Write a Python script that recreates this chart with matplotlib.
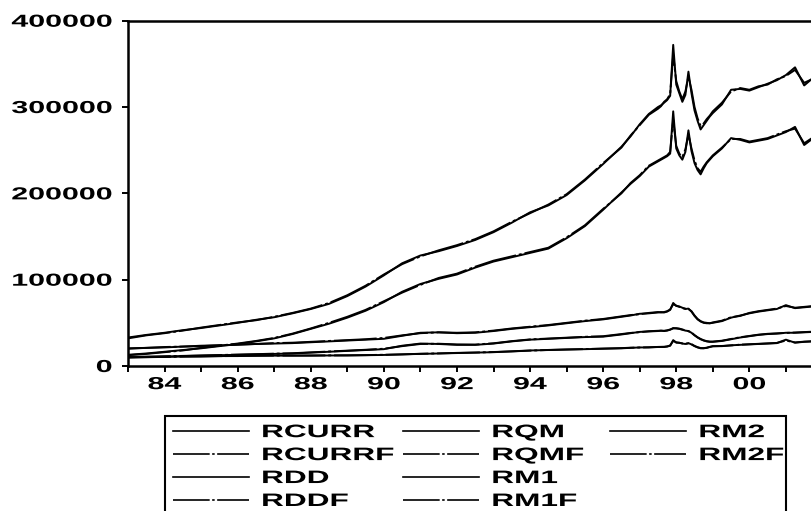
import numpy as np
import matplotlib
matplotlib.use("Agg")
import matplotlib.pyplot as plt
from matplotlib import patheffects
from matplotlib.transforms import Affine2D
from matplotlib.lines import Line2D
from matplotlib.patches import Rectangle

# observation dates (decimal years): half-yearly to 1996, quarterly, monthly round the 97/98 crisis, quarterly after
dates = np.concatenate([
    np.arange(1983.0, 1996.51, 0.5),
    np.arange(1996.75, 1997.51, 0.25),
    1997.5 + np.arange(1, 19) / 12,
    np.arange(1999.25, 2002.01, 0.25),
])

rm2 = [33000, 36000, 38500, 41500, 44000, 47000, 50000, 53500, 56500, 61000,
       66000, 72000, 81000, 92000, 105000, 119000, 128000, 133000, 139000, 146000,
       155000, 166000, 178000, 186000, 198000, 215000, 234000, 254000,
       266000, 280000, 292000, 300000,
       302000, 305000, 308000, 313000, 372000, 326000, 316000, 306000, 314000, 341000,
       316000, 296000, 284000, 274000, 279000, 284000, 289000, 293000,
       303000, 320000, 321000, 319000, 323000, 327000, 331000, 337000, 346000, 325000, 334000, 338000]
rm2f = [32000, 35500, 38000, 41000, 44500, 47500, 50500, 53000, 57000, 61500,
        66500, 73000, 82000, 93000, 106000, 118000, 127000, 134000, 140000, 147000,
        156000, 167000, 177000, 187000, 199000, 216000, 235000, 253000,
        267000, 279000, 291000, 298000,
        301000, 306000, 309000, 315000, 360000, 330000, 318000, 309000, 318000, 335000,
        320000, 300000, 287000, 278000, 281000, 286000, 290000, 295000,
        305000, 318000, 322000, 320000, 324000, 326000, 332000, 336000, 343000, 328000, 333000, 339000]

rqm = [13000, 14500, 16500, 18500, 20500, 23000, 25500, 28500, 32000, 37000,
       43000, 49000, 56000, 64000, 74000, 86000, 95000, 101000, 106000, 114000,
       121000, 126000, 131000, 136000, 148000, 162000, 181000, 201000,
       211000, 220000, 231000, 237000,
       239000, 241000, 243000, 246000, 295000, 252000, 244000, 239000, 248000, 273000,
       249000, 235000, 227000, 222000, 229000, 235000, 239000, 243000,
       252000, 264000, 262000, 259000, 261000, 263000, 267000, 271000, 277000, 256000, 264000, 267000]
rqmf = [12500, 14000, 16000, 18000, 21000, 23500, 26000, 29000, 32500, 37500,
        43500, 50000, 57000, 65000, 75000, 85000, 94000, 102000, 107000, 115000,
        122000, 127000, 132000, 137000, 149000, 163000, 182000, 200000,
        212000, 221000, 232000, 238000,
        240000, 242000, 244000, 248000, 285000, 255000, 246000, 242000, 251000, 268000,
        252000, 238000, 229000, 225000, 231000, 236000, 240000, 244000,
        253000, 263000, 263000, 260000, 262000, 264000, 268000, 272000, 275000, 258000, 265000, 268000]

rm1 = [20500, 21000, 21500, 22500, 23000, 24000, 24500, 25500, 26000, 26500,
       27500, 28500, 29500, 30500, 31500, 35000, 38500, 39000, 38000, 38500,
       40500, 43000, 45000, 47000, 49500, 52000, 54000, 57000,
       58500, 60500, 61000, 62000,
       62500, 62000, 63000, 65000, 73000, 69500, 69000, 67500, 66000, 66500,
       63000, 58000, 54000, 51500, 50000, 49500, 49500, 50000,
       52000, 56000, 58500, 61000, 63000, 64500, 66000, 70500, 67000, 68000, 69000, 70000]
rm1f = [20000, 21000, 22000, 22500, 23500, 24000, 25000, 25500, 26500, 27000,
        28000, 29000, 30000, 31000, 32500, 35500, 38000, 39000, 38500, 39000,
        41000, 43500, 45500, 47500, 50000, 52500, 54500, 57500,
        59000, 60000, 61500, 62500,
        62000, 62500, 63500, 65500, 71500, 70000, 68500, 67000, 66500, 66000,
        63500, 58500, 54500, 52000, 50500, 50000, 49500, 50500,
        52500, 56500, 58000, 61500, 63500, 65000, 66500, 69500, 67500, 68500, 69500, 70500]

rdd = [10500, 10800, 11000, 11500, 12000, 12500, 13000, 13500, 14000, 14500,
       15500, 16500, 17500, 18500, 19500, 23500, 26000, 25500, 24500, 24500,
       26000, 28500, 30500, 31500, 32500, 33500, 34000, 36500,
       38000, 39500, 40000, 40500,
       41000, 40500, 41000, 42000, 44000, 43500, 43000, 42000, 41000, 40500,
       38500, 35500, 33000, 31000, 29500, 28500, 28000, 28000,
       29000, 31000, 33000, 34500, 36000, 37000, 37500, 38500, 38500, 39000, 39500, 40000]
rddf = [10200, 10600, 11200, 11700, 12200, 12700, 13200, 13700, 14300, 14800,
        15800, 16800, 17800, 18800, 20000, 23000, 25500, 25800, 25000, 24800,
        26300, 28800, 30800, 31800, 32800, 33800, 34500, 37000,
        38300, 39200, 40300, 40800,
        40800, 40800, 41300, 42300, 43500, 43800, 43300, 42300, 41300, 40300,
        38800, 35800, 33300, 31300, 29800, 28800, 28300, 28300,
        29300, 31300, 33300, 34800, 36300, 37300, 37800, 38300, 38800, 39300, 39800, 40300]

rcurr = [10000, 10200, 10500, 11000, 11000, 11500, 11500, 12000, 12000, 12000,
         12000, 12200, 12200, 12500, 12800, 13500, 14000, 14500, 15000, 15500,
         16000, 17000, 18000, 18500, 19000, 19500, 20000, 20500,
         21000, 21500, 21500, 22000,
         22000, 22000, 22500, 23500, 30000, 27000, 27000, 26000, 25500, 26500,
         25000, 23000, 21500, 20500, 20500, 21000, 22000, 23000,
         23000, 24000, 24500, 25000, 25500, 26000, 26500, 30500, 27000, 28000, 28500, 29000]
rcurrf = [9800, 10300, 10600, 10800, 11200, 11400, 11700, 11800, 12100, 12100,
          12200, 12300, 12400, 12600, 13000, 13400, 14200, 14600, 15200, 15600,
          16200, 16900, 17800, 18600, 19200, 19600, 20200, 20700,
          21200, 21400, 21700, 22100,
          22200, 22300, 22700, 23800, 29000, 27500, 26800, 26200, 25800, 26200,
          25300, 23300, 21800, 20800, 20700, 21200, 22200, 22800,
          23200, 23800, 24700, 25200, 25700, 26200, 26700, 29500, 27300, 28200, 28700, 29200]

yticks = [0, 100000, 200000, 300000, 400000]
major_years = list(range(1984, 2001, 2))
minor_years = list(range(1983, 2003, 1))

FONT = "Liberation Sans"
STRETCH = 1.75   # the scanned original is squeezed tall-and-wide; text runs about 1.75x wide


class Stretch(patheffects.AbstractPathEffect):
    """Draw text glyphs scaled horizontally around one edge."""

    def __init__(self, sx, anchor="left"):
        super().__init__()
        self.sx = sx
        self.anchor = anchor

    def draw_path(self, renderer, gc, tpath, affine, rgbFace=None):
        ext = tpath.get_extents()
        x0 = {"left": ext.x0, "center": (ext.x0 + ext.x1) / 2, "right": ext.x1}[self.anchor]
        st = Affine2D().translate(-x0, 0).scale(self.sx, 1).translate(x0, 0)
        renderer.draw_path(gc, tpath, st + affine, rgbFace)


fig = plt.figure(figsize=(8.12, 5.11), dpi=100)
W, H = 812, 511
# axes in pixel terms: left spine x=128, zero line y=366, 400000 at y=20.7, right spine off the page
x0, x1 = 1983.0, 2002.5
ax = fig.add_axes([128 / W, (H - 366) / H, (x1 - x0) * 36.55 / W, (366 - 20.7) / H])

solid = "-"
fitted = (0, (22, 1.5, 1.5, 1.5))
series = [
    ("RCURR", rcurr, solid), ("RCURRF", rcurrf, fitted),
    ("RDD", rdd, solid), ("RDDF", rddf, fitted),
    ("RQM", rqm, solid), ("RQMF", rqmf, fitted),
    ("RM1", rm1, solid), ("RM1F", rm1f, fitted),
    ("RM2", rm2, solid), ("RM2F", rm2f, fitted),
]
handles = {}
for name, vals, ls in series:
    ln, = ax.plot(dates, vals, color="black", lw=1.4, ls=ls, label=name)
    handles[name] = ln

ax.set_xlim(x0, x1)
ax.set_ylim(0, 400000)
ax.set_yticks(yticks, labels=[str(v) for v in yticks])
ax.set_xticks(major_years, labels=[f"{y % 100:02d}" for y in major_years])
ax.set_xticks(minor_years, minor=True)
ax.tick_params(which="both", direction="out", length=4.5, width=1.4, color="black")
ax.tick_params(axis="y", pad=7)
ax.tick_params(axis="x", pad=3.5)
for lbl in ax.get_xticklabels() + ax.get_yticklabels():
    lbl.set_fontfamily(FONT)
    lbl.set_fontweight("bold")
    lbl.set_fontsize(12.5)
for sp in ax.spines.values():
    sp.set_linewidth(1.8)

blank = Line2D([], [], color="none")
order = ["RCURR", "RCURRF", "RDD", "RDDF", "RQM", "RQMF", "RM1", "RM1F", "RM2", "RM2F"]
leg_handles = [handles[n] for n in order] + [blank, blank]
leg_labels = order + ["", ""]
leg = fig.legend(leg_handles, leg_labels, ncol=3, loc="upper left",
                 bbox_to_anchor=(165 / W, 1 - 416 / H), borderaxespad=0,
                 prop={"family": FONT, "weight": "bold", "size": 13},
                 handlelength=4.2, handletextpad=0.72, columnspacing=3.6,
                 labelspacing=0.33, borderpad=0.45, frameon=False)
for lh in leg.get_lines():
    lh.set_linewidth(1.2)
# legend frame drawn separately: the stretched labels run wider than the box matplotlib measures
fig.add_artist(Rectangle((165 / W, -0.02), (786 - 165) / W, 0.02 + (H - 416) / H,
                         transform=fig.transFigure, fill=False, edgecolor="black",
                         linewidth=1.5, clip_on=False))

fig.canvas.draw()
for lbl in ax.get_yticklabels():
    lbl.set_path_effects([Stretch(STRETCH, "right")])
for lbl in ax.get_xticklabels():
    lbl.set_path_effects([Stretch(STRETCH, "center")])
for t in leg.get_texts():
    t.set_path_effects([Stretch(STRETCH, "left")])

fig.savefig("out.png", dpi=100)
